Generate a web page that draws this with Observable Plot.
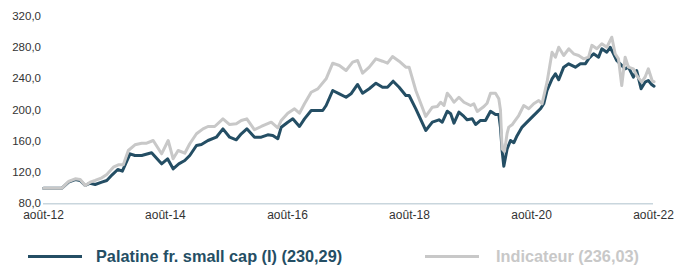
<!DOCTYPE html>
<html>
<head>
<meta charset="utf-8">
<script src="https://cdn.jsdelivr.net/npm/d3@7"></script>
<script src="https://cdn.jsdelivr.net/npm/@observablehq/plot@0.6"></script>
<style>
  html, body { margin: 0; padding: 0; background: #fff; }
  #wrap { position: relative; width: 675px; height: 266px; font-family: "Liberation Sans", Arial, sans-serif; }
  #chart svg { display: block; }
  .lg-line { position: absolute; height: 3px; }
  .lg-text { position: absolute; font-size: 16.3px; font-weight: bold; line-height: 16px; white-space: nowrap; }
</style>
</head>
<body>
<div id="wrap">
  <div id="chart"></div>
  <div class="lg-line" style="left:28px;top:255px;width:54px;background:#244e64"></div>
  <div class="lg-text" id="lg1" style="left:96px;top:248px;color:#244e64"></div>
  <div class="lg-line" style="left:425px;top:255px;width:54px;background:#c8c8c8"></div>
  <div class="lg-text" id="lg2" style="left:496px;top:248px;color:#c8c8c8"></div>
</div>
<script>
// Series names (legend)
const seriesNames = ["Palatine fr. small cap (I) (230,29)", "Indicateur (236,03)"];

// Palatine fr. small cap (I): decimal-year positions and values
const palatineT = [
  2012.583,2012.884,2012.992,2013.101,2013.183,2013.264,2013.346,2013.428,2013.537,2013.619,
  2013.711,2013.799,2013.874,2014.000,2014.081,2014.191,2014.354,2014.518,2014.616,2014.707,
  2014.800,2014.898,2014.980,2015.090,2015.171,2015.279,2015.416,2015.524,2015.634,2015.743,
  2015.825,2015.916,2016.042,2016.152,2016.259,2016.341,2016.423,2016.479,2016.586,2016.668,
  2016.777,2016.859,2016.969,2017.077,2017.158,2017.214,2017.322,2017.431,2017.541,2017.622,
  2017.730,2017.812,2017.921,2018.031,2018.139,2018.220,2018.313,2018.411,2018.521,2018.575,
  2018.685,2018.848,2018.956,2019.065,2019.119,2019.201,2019.257,2019.311,2019.392,2019.474,
  2019.528,2019.610,2019.666,2019.746,2019.828,2019.910,2019.992,2020.046,2020.073,2020.100,
  2020.128,2020.182,2020.237,2020.291,2020.345,2020.427,2020.508,2020.590,2020.672,2020.727,
  2020.781,2020.835,2020.917,2020.972,2021.026,2021.108,2021.190,2021.299,2021.381,2021.462,
  2021.516,2021.598,2021.680,2021.734,2021.815,2021.870,2021.925,2021.978,2022.034,2022.116,
  2022.170,2022.251,2022.305,2022.377,2022.442,2022.496,2022.550,2022.590
];
const palatineV = [
  100,100,107.6,111,109.8,103.4,106.3,104.7,107.6,109.8,
  117.4,123.8,121.7,143.9,141.7,141.7,145.2,131.1,137.5,124.7,
  131.1,135.3,141.7,154.5,155.8,160.9,165.1,175.8,165.1,161.8,
  169.5,175.8,165.1,165.1,168.2,167.3,163.1,177.9,184.3,188.6,
  178.8,188.6,199.2,199.2,199.2,205.6,224.8,220.6,216.2,220.6,
  232.5,221.3,227,234.1,229,229,236.7,229,218.4,218.4,
  201.4,173.7,184.3,187.3,184.3,198.3,195,183,197.1,191.6,
  187.3,188.6,181.3,186.5,186.5,198.3,194,194,177.9,148,
  128,150,160.9,158,167,178,184.3,190.7,197.1,201.4,
  207.8,224.8,239.7,246.1,238.5,254.6,258.9,254.6,258.9,258.9,
  265.3,271.7,267.4,278.1,273.7,280.1,271.7,263.1,258.9,252.5,
  254.6,241.8,250.3,227,235.4,237.6,232.5,230.3
];

// Indicateur: decimal-year positions and values
const indicT = [
  2012.583,2012.884,2012.992,2013.101,2013.183,2013.264,2013.346,2013.428,2013.537,2013.619,
  2013.727,2013.808,2013.890,2013.972,2014.081,2014.191,2014.273,2014.380,2014.518,2014.626,
  2014.707,2014.789,2014.898,2014.980,2015.090,2015.197,2015.279,2015.389,2015.524,2015.634,
  2015.743,2015.825,2015.916,2016.042,2016.152,2016.315,2016.423,2016.479,2016.586,2016.696,
  2016.777,2016.859,2016.969,2017.077,2017.214,2017.322,2017.431,2017.541,2017.649,2017.730,
  2017.812,2017.921,2018.031,2018.139,2018.220,2018.302,2018.411,2018.521,2018.575,2018.685,
  2018.848,2018.956,2019.037,2019.093,2019.147,2019.201,2019.257,2019.311,2019.392,2019.474,
  2019.583,2019.637,2019.693,2019.802,2019.854,2019.910,2019.992,2020.046,2020.073,2020.100,
  2020.139,2020.182,2020.209,2020.263,2020.318,2020.372,2020.454,2020.536,2020.617,2020.699,
  2020.753,2020.835,2020.917,2020.972,2021.026,2021.108,2021.190,2021.271,2021.353,2021.434,
  2021.516,2021.570,2021.652,2021.733,2021.815,2021.897,2021.952,2022.006,2022.060,2022.116,
  2022.170,2022.251,2022.305,2022.387,2022.442,2022.496,2022.562,2022.590
];
const indicV = [
  100,100,108.5,111.9,111,103.4,107.6,109.8,113.2,117.4,
  126.8,129.8,129.8,148.1,155.4,157.4,157.4,160.9,143.9,160.9,
  137.5,148.1,144.7,156.7,169.5,175.8,178.8,178.8,188.6,181.3,
  182.2,186.5,188.6,174.6,178.8,184.3,177.1,186.5,195.8,201.4,
  195.8,207.8,222.6,226.9,239.7,259.7,256.7,250.3,261,263.1,
  246.9,254.6,265.3,262.2,259.7,268.2,262.2,254.6,254.6,224.8,
  191.6,203.5,204.3,209.8,205.6,221.3,216.2,209.8,216.2,209.8,
  205.6,207.8,198,204.3,208.5,221.3,221.3,214.2,200,150,
  147,170,178,181,187,192.8,205.6,201.4,207.8,212,
  207.8,235.4,273.7,267.4,280.1,269.5,278.1,271.7,269.5,265.3,
  267.4,282.5,278.1,284.5,280.1,292.9,271.7,265.3,231.2,267.4,
  254.6,252.5,244,235.4,241.8,252.5,236.7,236
];

// Axis ticks
const yTicks = [80, 120, 160, 200, 240, 280, 320];
const xTickYears = [2012, 2014, 2016, 2018, 2020, 2022];
const xTickLabels = ["août-12", "août-14", "août-16", "août-18", "août-20", "août-22"];

const colors = ["#244e64", "#c8c8c8"];

function toDate(t) {
  const y = Math.floor(t);
  const a = Date.UTC(y, 0, 1), b = Date.UTC(y + 1, 0, 1);
  return new Date(a + (t - y) * (b - a));
}
const palatine = palatineT.map((t, i) => ({date: toDate(t), value: palatineV[i]}));
const indic = indicT.map((t, i) => ({date: toDate(t), value: indicV[i]}));
const xTicks = xTickYears.map(y => new Date(Date.UTC(y, 7, 1)));

const plot = Plot.plot({
  width: 675,
  height: 226,
  marginLeft: 43,
  marginRight: 22,
  marginTop: 15.5,
  marginBottom: 22.7,
  style: {fontFamily: "'Liberation Sans', Arial, sans-serif", fontSize: "12px", color: "#333", background: "#fff"},
  x: {type: "utc", domain: [new Date(Date.UTC(2012, 7, 1)), new Date(Date.UTC(2022, 7, 1))]},
  y: {domain: [80, 320]},
  marks: [
    Plot.ruleY([80], {stroke: "#c9d6dd", strokeWidth: 1.5}),
    Plot.line(palatine, {x: "date", y: "value", stroke: colors[0], strokeWidth: 3, strokeLinejoin: "round"}),
    Plot.line(indic, {x: "date", y: "value", stroke: colors[1], strokeWidth: 3, strokeLinejoin: "round"}),
    Plot.axisX({ticks: xTicks, tickSize: 0, tickPadding: 7, label: null, fontSize: 12,
      tickFormat: d => xTickLabels[xTickYears.indexOf(d.getUTCFullYear())]}),
    Plot.axisY({ticks: yTicks, tickSize: 0, tickPadding: 2.5, label: null, fontSize: 11.5,
      tickFormat: d => d.toFixed(1).replace(".", ",")})
  ]
});
document.getElementById("chart").appendChild(plot);
document.getElementById("lg1").textContent = seriesNames[0];
document.getElementById("lg2").textContent = seriesNames[1];
</script>
</body>
</html>
